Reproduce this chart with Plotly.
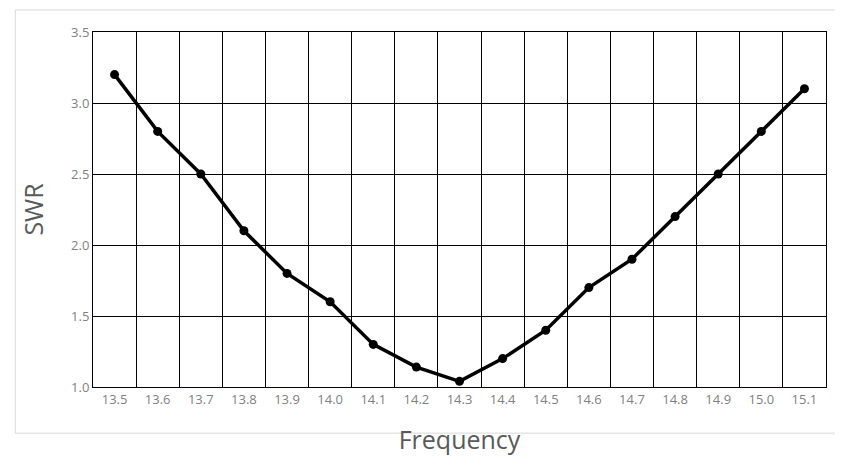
import plotly.graph_objects as go

freq = ["13.5", "13.6", "13.7", "13.8", "13.9", "14.0", "14.1", "14.2", "14.3",
        "14.4", "14.5", "14.6", "14.7", "14.8", "14.9", "15.0", "15.1"]
swr = [3.2, 2.8, 2.5, 2.1, 1.8, 1.6, 1.3, 1.14, 1.04,
       1.2, 1.4, 1.7, 1.9, 2.2, 2.5, 2.8, 3.1]

fig = go.Figure()
fig.add_trace(go.Scatter(x=freq, y=swr, mode="lines+markers",
                         line=dict(color="black", width=3.5),
                         marker=dict(color="black", size=9)))

fig.update_layout(
    width=843, height=466,
    margin=dict(l=85, r=25, t=24, b=87, autoexpand=False),
    paper_bgcolor="white", plot_bgcolor="white",
    showlegend=False,
    font=dict(family="Open Sans, DejaVu Sans, sans-serif", color="#595959"),
    xaxis=dict(type="category", tickson="boundaries", range=[-0.5, 16.5],
               showgrid=True, gridcolor="black", gridwidth=1, automargin=False,
               showline=True, linecolor="black", mirror=True, ticks="",
               tickfont=dict(size=13, color="#7f7f7f"),
               title=dict(text="Frequency", font=dict(size=25, color="#595959"), standoff=24)),
    yaxis=dict(range=[1.0, 3.5], dtick=0.5, tickformat=".1f", automargin=False,
               showgrid=True, gridcolor="black", gridwidth=1,
               showline=True, linecolor="black", mirror=True, ticks="", zeroline=False,
               tickfont=dict(size=13, color="#7f7f7f"),
               title=dict(text="SWR", font=dict(size=25, color="#595959"), standoff=20)),
    shapes=[dict(type="rect", xref="paper", yref="paper",
                 x0=-0.106, x1=1.023, y0=-0.130, y1=1.062,
                 line=dict(color="#d9d9d9", width=1))],
)

fig.write_html("out.html")
